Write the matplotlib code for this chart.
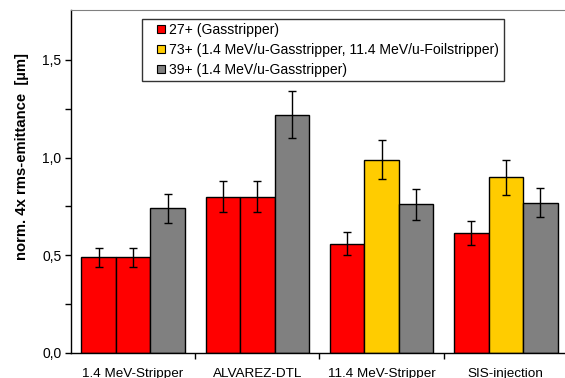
import numpy as np
import matplotlib
matplotlib.use('Agg')
import matplotlib.pyplot as plt
from matplotlib.lines import Line2D
from matplotlib.ticker import FixedLocator, FuncFormatter

plt.rcParams['font.family'] = ['Liberation Sans', 'DejaVu Sans']

categories = ['1.4 MeV-Stripper', 'ALVAREZ-DTL', '11.4 MeV-Stripper', 'SIS-injection']

# 27+ (Gasstripper)
values_27 = [0.49, 0.80, 0.56, 0.615]
err_27 = [0.048, 0.08, 0.058, 0.062]
# 73+ (red before the foil stripper, yellow after)
values_73 = [0.49, 0.80, 0.99, 0.90]
err_73 = [0.048, 0.08, 0.10, 0.09]
# 39+ (1.4 MeV/u-Gasstripper)
values_39 = [0.74, 1.22, 0.76, 0.77]
err_39 = [0.073, 0.12, 0.077, 0.075]

legend_labels = ['27+ (Gasstripper)',
                 '73+ (1.4 MeV/u-Gasstripper, 11.4 MeV/u-Foilstripper)',
                 '39+ (1.4 MeV/u-Gasstripper)']

RED = '#ff0000'
YELLOW = '#ffcc00'
GRAY = '#808080'
colors_73 = [RED, RED, YELLOW, YELLOW]

fig = plt.figure(figsize=(5.65, 3.78), dpi=100)
ax = fig.add_axes([71 / 565, 25 / 378, 497 / 565, 343 / 378])

x = np.arange(len(categories))
w = 0.278
err_kw = dict(ecolor='black', elinewidth=1, capsize=3, capthick=1)

ax.bar(x - w, values_27, w, yerr=err_27, color=RED, edgecolor='black', linewidth=1, error_kw=err_kw)
ax.bar(x, values_73, w, yerr=err_73, color=colors_73, edgecolor='black', linewidth=1, error_kw=err_kw)
ax.bar(x + w, values_39, w, yerr=err_39, color=GRAY, edgecolor='black', linewidth=1, error_kw=err_kw)

ax.set_xlim(-0.5, len(categories) - 0.5)
ax.set_ylim(0, 1.755)

# y axis: comma decimals, minor ticks in between
ax.yaxis.set_major_locator(FixedLocator([0.0, 0.5, 1.0, 1.5]))
ax.yaxis.set_minor_locator(FixedLocator([0.25, 0.75, 1.25]))
ax.yaxis.set_major_formatter(FuncFormatter(lambda v, p: f'{v:.1f}'.replace('.', ',')))
ax.tick_params(axis='y', which='both', direction='out', length=4, width=1, labelsize=10, pad=3)

# x axis: ticks between groups, labels at group centres
ax.xaxis.set_major_locator(FixedLocator([0.5, 1.5, 2.5]))
ax.xaxis.set_major_formatter(FuncFormatter(lambda v, p: ''))
ax.xaxis.set_minor_locator(FixedLocator(x))
ax.xaxis.set_minor_formatter(FuncFormatter(lambda v, p: categories[int(round(v))]))
ax.tick_params(axis='x', which='major', direction='out', length=4, width=1)
ax.tick_params(axis='x', which='minor', length=0, labelsize=9.7, pad=11)

ax.spines['right'].set_visible(False)
ax.spines['top'].set_color('#808080')
ax.spines['left'].set_linewidth(1)
ax.spines['bottom'].set_linewidth(1)

ax.set_ylabel('norm. 4x rms-emittance  [µm]', fontsize=10.7, fontweight='bold')
ax.yaxis.set_label_coords(-0.085, 0.573)

# square markers as legend handles, centred in a wider handle box
handles = [Line2D([], [], linestyle='none', marker='s', markersize=6,
                  markerfacecolor=c, markeredgecolor='black', markeredgewidth=0.8)
           for c in (RED, YELLOW, GRAY)]
leg = ax.legend(handles, legend_labels, loc='upper left', bbox_to_anchor=(0.143, 0.974),
                borderaxespad=0, fontsize=10.1, frameon=True, fancybox=False,
                handlelength=2.1, handletextpad=-0.45,
                labelspacing=0.42, borderpad=0.3)
leg.get_frame().set_edgecolor('black')
leg.get_frame().set_linewidth(1)

fig.savefig('out.png', dpi=100)
